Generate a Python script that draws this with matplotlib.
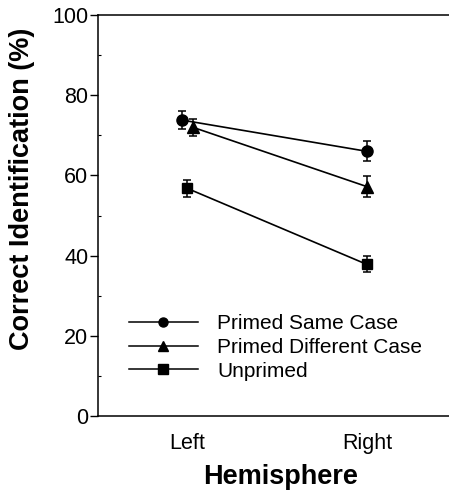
import matplotlib
matplotlib.use("Agg")
import matplotlib.pyplot as plt
from matplotlib.ticker import MultipleLocator
from matplotlib.lines import Line2D

plt.rcParams['font.family'] = ['Liberation Sans', 'DejaVu Sans']

hemispheres = ["Left", "Right"]
series_names = ["Primed Same Case", "Primed Different Case", "Unprimed"]
means = {
    "Primed Same Case": [73.8, 66.0],
    "Primed Different Case": [72.0, 57.2],
    "Unprimed": [56.8, 37.8],
}
errors = {
    "Primed Same Case": [2.3, 2.5],
    "Primed Different Case": [2.1, 2.6],
    "Unprimed": [2.1, 2.0],
}
# small horizontal jitter used in the original to separate overlapping points
x_offsets = {
    "Primed Same Case": [-0.028, 0.0],
    "Primed Different Case": [0.033, 0.0],
    "Unprimed": [0.0, 0.0],
}
markers = {"Primed Same Case": "o", "Primed Different Case": "^", "Unprimed": "s"}
msizes = {"Primed Same Case": 8, "Primed Different Case": 8, "Unprimed": 7.5}

fig = plt.figure(figsize=(4.49, 4.96), dpi=100)
ax = fig.add_axes([98/449, 1-416/496, 351/449, 401/496])

base_x = list(range(len(hemispheres)))
for name in series_names:
    xs = [b + o for b, o in zip(base_x, x_offsets[name])]
    ax.errorbar(xs, means[name], yerr=errors[name], color='black',
                marker=markers[name], markersize=msizes[name], linewidth=1.2,
                elinewidth=1.1, capsize=3, capthick=1.1, label=name)

ax.set_xlim(-0.494, 1.456)
ax.set_ylim(0, 100)
ax.set_xticks(base_x)
ax.set_xticklabels(hemispheres, fontsize=15.5)
ax.tick_params(axis='x', length=0, pad=12)
ax.yaxis.set_major_locator(MultipleLocator(20))
ax.yaxis.set_minor_locator(MultipleLocator(10))
ax.tick_params(axis='y', which='major', direction='out', length=6, width=1, labelsize=15.5, pad=1)
ax.tick_params(axis='y', which='minor', direction='in', length=2.5, width=0.8)
ax.spines['right'].set_visible(False)
for s in ['left', 'top', 'bottom']:
    ax.spines[s].set_linewidth(1.1)

ax.set_ylabel("Correct Identification (%)", fontsize=19.5, fontweight='bold')
ax.yaxis.set_label_coords(-0.18, 0.566)
ax.set_xlabel("Hemisphere", fontsize=19.5, fontweight='bold')
ax.xaxis.set_label_coords(0.521, -0.12)

leg_handles = [Line2D([], [], color='black', marker=markers[n], markersize=6.5, linewidth=1.1)
               for n in series_names]
ax.legend(leg_handles, series_names, loc='center left', bbox_to_anchor=(0.088, 0.171),
          frameon=False, fontsize=15, handlelength=3.3, handletextpad=0.95,
          labelspacing=0.22, borderpad=0, borderaxespad=0)

fig.savefig("out.png", dpi=100)
